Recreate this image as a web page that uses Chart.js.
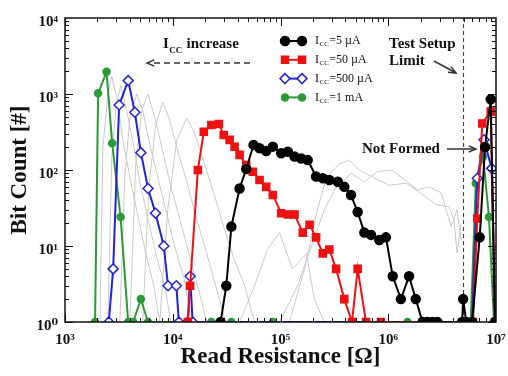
<!DOCTYPE html>
<html>
<head>
<meta charset="utf-8">
<script src="https://cdn.jsdelivr.net/npm/chart.js@4.4.1/dist/chart.umd.min.js"></script>
<style>
  body { margin: 0; background: #fff; }
  canvas { display: block; }
</style>
</head>
<body>
<canvas id="chart" width="508" height="376"></canvas>
<script>
// read resistance [ohm] and bit count, one pair of arrays per compliance current
const res5uA = [2.78e4, 3.14e4, 3.5e4, 4.17e4, 4.81e4, 5.62e4, 6.39e4, 7.37e4, 8.49e4, 1.015e5, 1.17e5, 1.35e5, 1.555e5, 1.79e5, 2.14e5, 2.47e5, 2.84e5, 3.4e5, 3.91e5, 4.51e5, 5.2e5, 6.0e5, 6.92e5, 8.26e5, 9.52e5, 1.1e6, 1.31e6, 1.56e6, 1.8e6, 2.08e6, 2.31e6, 2.57e6, 2.86e6, 4.85e6, 4.95e6, 5.3e6, 6.0e6, 7.06e6, 7.91e6, 8.93e6, 9.8e6];
const cnt5uA = [1, 3, 18, 57, 103, 214, 193, 178, 203, 166, 174, 150, 142, 135, 82, 78, 74, 70, 60, 47, 28, 15, 14, 12, 13, 4, 2, 4, 2, 1, 1, 1, 1, 1, 2, 1, 1, 13, 200, 850, 1];

const res50uA = [1.38e4, 1.45e4, 1.71e4, 1.94e4, 2.28e4, 2.68e4, 2.97e4, 3.37e4, 3.75e4, 4.17e4, 4.81e4, 5.54e4, 6.39e4, 7.37e4, 8.49e4, 1.015e5, 1.17e5, 1.35e5, 1.61e5, 1.86e5, 2.14e5, 2.47e5, 2.84e5, 3.28e5, 3.91e5, 4.61e5, 5.2e5, 6.22e5, 8.55e5, 6.12e6, 6.71e6, 7.46e6, 8.93e6, 9.8e6];
const cnt50uA = [1, 3, 100, 318, 391, 403, 288, 249, 202, 158, 116, 95, 74, 60, 47, 27, 26, 26, 15, 19, 13, 8, 9, 5, 2, 1, 5, 1, 1, 1, 23, 410, 586, 1];

const res500uA = [2.55e3, 2.8e3, 3.18e3, 3.86e3, 4.45e3, 5.06e3, 5.9e3, 6.92e3, 8.26e3, 9.04e3, 1.08e4, 1.14e4, 1.38e4, 1.45e4, 1.53e4, 6.0e6, 6.71e6, 7.74e6, 9.12e6, 9.8e6];
const cnt500uA = [1, 5, 716, 1500, 575, 169, 57, 27, 10, 3, 3, 1, 1, 4, 1, 1, 78, 250, 105, 1];

const res1mA = [1.9e3, 2.03e3, 2.43e3, 2.74e3, 3.28e3, 3.86e3, 4.29e3, 5.06e3, 5.9e3, 2.28e4, 3.5e4, 8.5e4, 1.51e6, 5.83e6, 6.49e6, 7.58e6, 8.61e6, 9.58e6];
const cnt1mA = [1, 1020, 1960, 225, 24, 1, 1, 2, 1, 1, 1, 1, 1, 1, 67, 150, 24, 1];

// the other (grey) compliance currents
const grayRes = [
  [2.11e3, 2.25e3, 2.5e3, 2.72e3, 3.03e3, 3.44e3, 4.0e3, 4.74e3, 5.62e3, 6.67e3, 7.58e3],
  [2.5e3, 2.72e3, 2.97e3, 3.3e3, 3.75e3, 4.35e3, 5.06e3, 6.0e3, 7.11e3, 8.43e3, 9.58e3],
  [3.23e3, 3.59e3, 4.0e3, 4.64e3, 5.27e3, 6.12e3, 7.26e3, 8.61e3, 1.04e4, 1.26e4, 1.5e4],
  [4.0e3, 4.54e3, 5.16e3, 5.87e3, 6.81e3, 7.91e3, 9.38e3, 1.14e4, 1.38e4, 1.7e4, 2.07e4],
  [5.27e3, 6.0e3, 6.96e3, 8.08e3, 9.38e3, 1.11e4, 1.35e4, 1.63e4, 2.02e4, 2.5e4, 3.1e4],
  [7.58e3, 8.99e3, 1.09e4, 1.35e4, 1.6e4, 1.94e4, 2.4e4, 2.97e4, 3.67e4, 4.64e4, 5.74e4],
  [4.17e4, 5.74e4, 7.58e4, 9.79e4, 1.29e5, 1.74e5, 2.06e5, 2.55e5],
  [1.21e5, 1.67e5, 2.2e5, 2.67e5, 3.52e5, 4.35e5, 5.39e5, 7.11e5, 1.02e6, 1.47e6, 1.94e6, 2.78e6, 3.67e6, 4.08e6, 4.35e6, 4.74e6],
  [9.79e4, 1.44e5, 1.94e5, 2.55e5, 3.3e5, 4.54e5, 6.0e5, 7.91e5, 1.07e6, 1.41e6, 1.86e6, 2.4e6, 3.1e6, 3.83e6, 4.35e6, 4.74e6]
];
const grayCnt = [
  [1, 200, 1000, 1700, 900, 250, 80, 25, 8, 3, 1],
  [1, 150, 700, 1300, 600, 200, 60, 20, 7, 3, 1],
  [1, 80, 500, 1000, 600, 220, 80, 30, 10, 4, 1],
  [1, 120, 600, 1000, 500, 200, 70, 25, 9, 3, 1],
  [1, 60, 400, 780, 450, 180, 70, 25, 9, 3, 1],
  [1, 30, 250, 480, 300, 130, 50, 18, 7, 3, 1],
  [1, 3, 9, 15, 5, 8, 2, 1],
  [1, 5, 30, 80, 120, 135, 100, 81, 63, 67, 51, 35, 33, 22, 8, 20],
  [1, 3, 10, 30, 60, 90, 70, 95, 100, 75, 55, 60, 50, 18, 30, 12]
];

const xDecades = [1e3, 1e4, 1e5, 1e6, 1e7];
const yDecades = [1, 10, 100, 1000, 10000];
const limitRes = 5e6;          // test setup limit
const legendText = ['=5 µA', '=50 µA', '=500 µA', '=1 mA'];

const SERIF = '"Liberation Serif", "DejaVu Serif", serif';
const sup = { '0': '⁰', '1': '¹', '2': '²', '3': '³', '4': '⁴', '5': '⁵', '6': '⁶', '7': '⁷', '8': '⁸', '9': '⁹' };
const powLabel = v => '10' + String(Math.round(Math.log10(v))).split('').map(c => sup[c]).join('');
const pts = (r, n) => r.map((v, i) => ({ x: v, y: n[i] }));

const styles = [
  { color: '#000000', shape: 'circle', fill: '#000000', radius: 4.5 },
  { color: '#ee1111', shape: 'rect', fill: '#ee1111', radius: 5 },
  { color: '#2323d6', shape: 'rectRot', fill: '#ffffff', radius: 5 },
  { color: '#2a9a36', shape: 'circle', fill: '#2a9a36', radius: 3.5 }
];
const series = [[res5uA, cnt5uA], [res50uA, cnt50uA], [res500uA, cnt500uA], [res1mA, cnt1mA]];

const datasets = series.map(([r, n], i) => ({
  data: pts(r, n),
  borderColor: styles[i].color,
  borderWidth: 2,
  pointStyle: styles[i].shape,
  pointRadius: styles[i].radius,
  pointBackgroundColor: styles[i].fill,
  pointBorderColor: styles[i].color,
  pointBorderWidth: 1.5,
  tension: 0
}));

datasets.push({
  data: [{ x: limitRes, y: 1 }, { x: limitRes, y: 1e4 }],
  borderColor: '#333',
  borderWidth: 1,
  borderDash: [4, 3],
  pointRadius: 0
});

grayRes.forEach((r, i) => datasets.push({
  data: pts(r, grayCnt[i]),
  borderColor: '#c9c9c9',
  borderWidth: 1,
  pointRadius: 0,
  tension: 0
}));

function mark(ctx, s, x, y) {
  ctx.fillStyle = s.fill; ctx.strokeStyle = s.color; ctx.lineWidth = 1.5;
  ctx.beginPath();
  if (s.shape === 'circle') ctx.arc(x, y, s.radius, 0, Math.PI * 2);
  else if (s.shape === 'rect') ctx.rect(x - 3.5, y - 3.5, 7, 7);
  else { ctx.moveTo(x, y - s.radius); ctx.lineTo(x + s.radius, y); ctx.lineTo(x, y + s.radius); ctx.lineTo(x - s.radius, y); ctx.closePath(); }
  ctx.fill(); ctx.stroke();
}

function icc(ctx, x, y, size, weight, rest) {
  ctx.font = `${weight} ${size}px ${SERIF}`;
  ctx.fillText('I', x, y);
  let w = ctx.measureText('I').width + 0.5;
  ctx.font = `${weight} ${Math.round(size * 0.62)}px ${SERIF}`;
  ctx.fillText('CC', x + w, y + size * 0.3);
  w += ctx.measureText('CC').width + 0.5;
  ctx.font = `${weight} ${size}px ${SERIF}`;
  ctx.fillText(rest, x + w, y);
}

function arrowHead(ctx, x, y, ang) {
  ctx.beginPath();
  ctx.moveTo(x - 8 * Math.cos(ang - 0.4), y - 8 * Math.sin(ang - 0.4));
  ctx.lineTo(x, y);
  ctx.lineTo(x - 8 * Math.cos(ang + 0.4), y - 8 * Math.sin(ang + 0.4));
  ctx.stroke();
}

const decor = {
  id: 'decor',
  afterDraw(chart) {
    const { ctx, chartArea: a, scales: { x, y } } = chart;
    ctx.save();
    // inward tick marks on all four sides
    ctx.strokeStyle = '#111'; ctx.lineWidth = 1;
    ctx.beginPath();
    for (let e = 3; e < 7; e++) for (let m = 1; m < 10; m++) {
      const px = Math.round(x.getPixelForValue(m * 10 ** e)) + 0.5, len = m === 1 ? 8 : 4;
      ctx.moveTo(px, a.bottom); ctx.lineTo(px, a.bottom - len);
      ctx.moveTo(px, a.top); ctx.lineTo(px, a.top + len);
    }
    for (let e = 0; e < 4; e++) for (let m = 1; m < 10; m++) {
      const py = Math.round(y.getPixelForValue(m * 10 ** e)) + 0.5, len = m === 1 ? 8 : 4;
      ctx.moveTo(a.left, py); ctx.lineTo(a.left + len, py);
      ctx.moveTo(a.right, py); ctx.lineTo(a.right - len, py);
    }
    ctx.stroke();
    ctx.lineWidth = 1.5;
    ctx.strokeRect(a.left, a.top, a.right - a.left, a.bottom - a.top);

    // legend
    ctx.textBaseline = 'middle';
    styles.forEach((s, i) => {
      const ly = 41 + i * 18.8;
      ctx.strokeStyle = s.color; ctx.lineWidth = 2;
      ctx.beginPath(); ctx.moveTo(285, ly); ctx.lineTo(302, ly); ctx.stroke();
      mark(ctx, s, 285, ly); mark(ctx, s, 302, ly);
      ctx.fillStyle = '#111';
      icc(ctx, 315, ly, 12, 'normal', legendText[i]);
    });

    // annotations
    ctx.fillStyle = '#111'; ctx.strokeStyle = '#333'; ctx.lineWidth = 1.5;
    ctx.textBaseline = 'alphabetic';
    icc(ctx, 163, 48, 15, 'bold', ' increase');
    ctx.setLineDash([6, 4]);
    ctx.beginPath(); ctx.moveTo(250, 63); ctx.lineTo(150, 63); ctx.stroke();
    ctx.setLineDash([]);
    arrowHead(ctx, 147, 63, Math.PI);

    ctx.font = `bold 15px ${SERIF}`;
    ctx.fillText('Test Setup', 389, 48);
    ctx.fillText('Limit', 389, 65);
    ctx.beginPath(); ctx.moveTo(434, 61); ctx.lineTo(456, 73); ctx.stroke();
    arrowHead(ctx, 456, 73, Math.atan2(12, 22));

    ctx.fillText('Not Formed', 362, 153);
    ctx.beginPath(); ctx.moveTo(447, 149); ctx.lineTo(475, 149); ctx.stroke();
    arrowHead(ctx, 476, 149, 0);
    ctx.restore();
  }
};

const tickFont = { family: SERIF, size: 15, weight: 'bold' };
const titleFont = { family: SERIF, size: 23, weight: 'bold' };

new Chart(document.getElementById('chart'), {
  type: 'line',
  data: { datasets },
  options: {
    responsive: false,
    animation: false,
    layout: { padding: { top: 18, right: 12, left: 0, bottom: 0 } },
    plugins: { legend: { display: false }, tooltip: { enabled: false } },
    scales: {
      x: {
        type: 'logarithmic', min: 1e3, max: 1e7,
        grid: { display: false, drawTicks: false }, border: { display: false },
        afterBuildTicks: s => { s.ticks = xDecades.map(v => ({ value: v })); },
        afterFit: s => { s.height = 54; s.paddingLeft = 0; s.paddingRight = 0; },
        ticks: { callback: powLabel, font: tickFont, color: '#111', padding: 9, maxRotation: 0, autoSkip: false },
        title: { display: true, text: 'Read Resistance [Ω]', font: titleFont, color: '#111', padding: { top: 0, bottom: 5 } }
      },
      y: {
        type: 'logarithmic', min: 1, max: 1e4,
        grid: { display: false, drawTicks: false }, border: { display: false },
        afterBuildTicks: s => { s.ticks = yDecades.map(v => ({ value: v })); },
        afterFit: s => { s.width = 65; s.paddingTop = 0; s.paddingBottom = 0; },
        ticks: { callback: powLabel, font: tickFont, color: '#111', padding: 7, labelOffset: 4, autoSkip: false },
        title: { display: true, text: 'Bit Count [#]', font: titleFont, color: '#111', padding: { top: 6, bottom: 0 } }
      }
    }
  },
  plugins: [decor]
});
</script>
</body>
</html>
